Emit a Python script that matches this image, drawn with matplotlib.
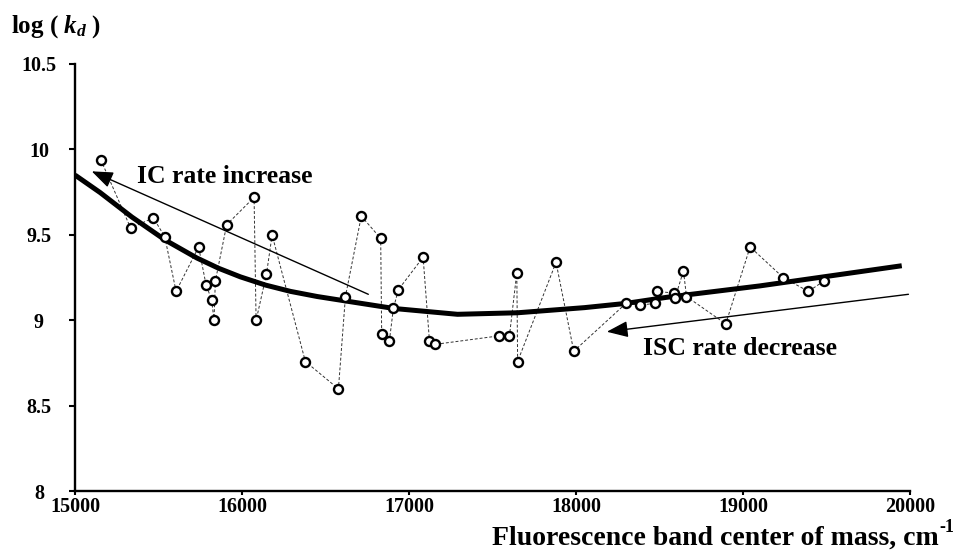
import matplotlib
matplotlib.use("Agg")
import matplotlib.pyplot as plt

plt.rcParams['font.family'] = ['Liberation Serif', 'DejaVu Serif']
plt.rcParams['font.weight'] = 'bold'
plt.rcParams['mathtext.fontset'] = 'custom'
plt.rcParams['mathtext.rm'] = 'Liberation Serif:bold'
plt.rcParams['mathtext.it'] = 'Liberation Serif:bold:italic'

# measured points: band centre of mass (cm^-1) vs log(kd)
band_cm = [15154, 15333, 15469, 15537, 15605, 15740, 15784, 15818, 15832, 15840,
           15908, 16072, 16084, 16146, 16180, 16379, 16577, 16619, 16714, 16830,
           16836, 16882, 16906, 16936, 17084, 17122, 17154, 17539, 17601, 17645,
           17650, 17880, 17986, 18299, 18385, 18475, 18483, 18589, 18592, 18643,
           18661, 18896, 19042, 19241, 19391, 19483]
log_kd = [9.94, 9.54, 9.60, 9.49, 9.17, 9.43, 9.21, 9.12, 9.00, 9.23,
          9.56, 9.72, 9.00, 9.27, 9.50, 8.76, 8.60, 9.14, 9.61, 9.48,
          8.92, 8.88, 9.07, 9.18, 9.37, 8.88, 8.86, 8.91, 8.91, 9.28,
          8.76, 9.34, 8.82, 9.10, 9.09, 9.10, 9.17, 9.16, 9.13, 9.29,
          9.14, 8.98, 9.43, 9.25, 9.17, 9.23]

# fitted trend curve
fit_cm = [15000, 15150, 15340, 15540, 15730, 15860, 15990, 16140, 16290,
          16450, 16620, 16910, 17290, 17650, 18050, 18300, 18540, 19100, 19950]
fit_kd = [9.850, 9.748, 9.605, 9.470, 9.365, 9.305, 9.255, 9.207, 9.170,
          9.140, 9.114, 9.070, 9.036, 9.045, 9.075, 9.100, 9.135, 9.202, 9.320]

x_ticks = [15000, 16000, 17000, 18000, 19000, 20000]
y_ticks = [8, 8.5, 9, 9.5, 10, 10.5]
y_tick_labels = ['8', '8.5', '9', '9.5', '10', '10.5']

fig = plt.figure(figsize=(9.56, 5.51), dpi=100)
ax = fig.add_axes([0.0785, 0.108, 0.8735, 0.776])

ax.plot(band_cm, log_kd, color='#333333', lw=0.7, ls=(0, (3, 2)), zorder=1)
ax.plot(fit_cm, fit_kd, color='black', lw=3.6, solid_joinstyle='round',
        solid_capstyle='butt', zorder=2)
ax.plot(band_cm, log_kd, 'o', ms=6.5, mew=1.7, mfc='white', mec='black',
        ls='none', zorder=3)

arrow = dict(arrowstyle='-|>,head_length=1.3,head_width=0.5', color='black',
             lw=1.0, shrinkA=0, shrinkB=0, mutation_scale=10)
ax.annotate('', xy=(15100, 9.872), xytext=(16756, 9.153), arrowprops=arrow)
ax.annotate('', xy=(18184, 8.934), xytext=(19990, 9.153), arrowprops=arrow)
ax.text(15369, 9.802, 'IC rate increase', fontsize=18.5, fontweight='bold',
        va='baseline', ha='left')
ax.text(18403, 8.798, 'ISC rate decrease', fontsize=18.5, fontweight='bold',
        va='baseline', ha='left')

ax.set_xlim(15000, 20000)
ax.set_ylim(8, 10.5)
ax.set_xticks(x_ticks)
ax.set_xticklabels([str(t) for t in x_ticks])
ax.set_yticks(y_ticks)
ax.set_yticklabels(y_tick_labels, ha='center')
for s in ['top', 'right']:
    ax.spines[s].set_visible(False)
for s in ['left', 'bottom']:
    ax.spines[s].set_linewidth(1.7)
ax.tick_params(axis='both', direction='out', width=1.5, labelsize=14.5)
ax.tick_params(axis='x', length=3, pad=1)
ax.tick_params(axis='y', length=4, pad=22)

fig.text(0.982, 0.011, 'Fluorescence band center of mass, cm',
         fontsize=20, fontweight='bold', ha='right', va='baseline')
fig.text(0.983, 0.035, '-1', fontsize=13, fontweight='bold',
         ha='left', va='baseline')
fig.text(0.011, 0.94, r'log ( $k_d$ )', fontsize=18, fontweight='bold',
         ha='left', va='baseline')

fig.savefig('out.png', dpi=100)
